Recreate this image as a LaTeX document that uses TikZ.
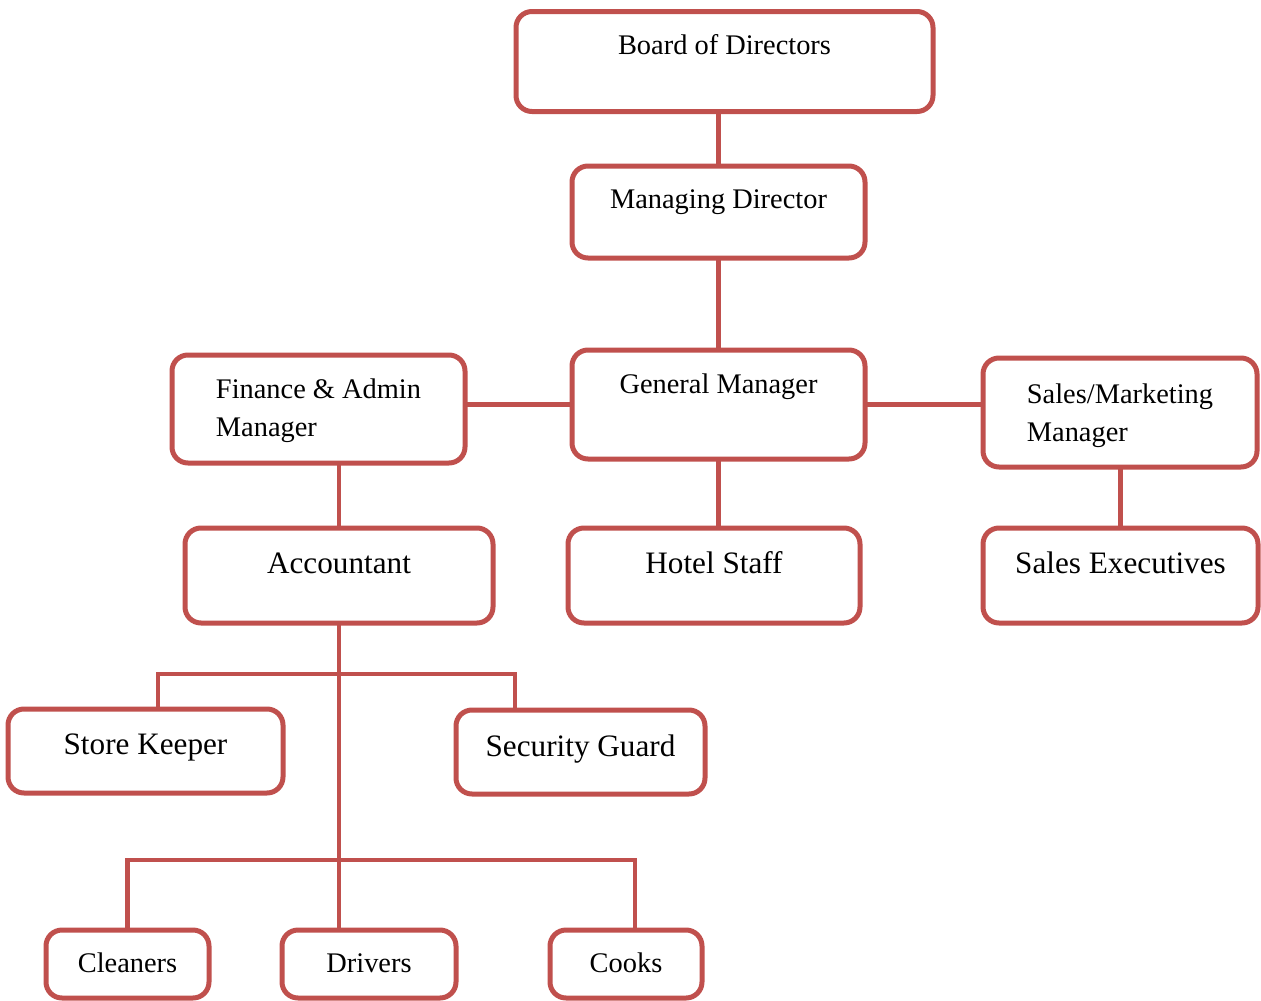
\documentclass[tikz,border=0pt]{standalone}
\usepackage{fontspec}
\setmainfont{Liberation Serif}
\usetikzlibrary{calc}
\definecolor{chartred}{HTML}{C0504D}

\begin{document}
\begin{tikzpicture}[x=1pt,y=-1pt,
    post/.style n args={3}{draw=chartred,line width=5pt,rounded corners=16pt,fill=white,
      inner sep=0pt,outer sep=0pt,anchor=north,minimum width=#1,text height=#2,text depth=#3},
    small/.style={font=\fontsize{28.4}{38}\selectfont},
    large/.style={font=\fontsize{31.2}{38}\selectfont},
    link/.style={draw=chartred,line width=4.5pt}]
  \useasboundingbox (0,0) rectangle (1261,1001);
  \node[post={417pt}{42.5pt}{57.5pt},small] (bod) at (724.5,11.5) {Board of Directors};
  \node[post={293pt}{42pt}{50pt},small] (md) at (718.5,166) {Managing Director};
  \node[post={293pt}{43pt}{66pt},small] (gm) at (718.5,350) {General Manager};
  \node[post={293pt}{81pt}{27pt},small,align=left] (fam) at (318.5,355) {Finance \& Admin\\Manager};
  \node[post={274pt}{83pt}{26pt},small,align=left] (smm) at (1120,358) {Sales/Marketing\\Manager};
  \node[post={308pt}{45pt}{50pt},large] (acc) at (339,528) {Accountant};
  \node[post={292pt}{45pt}{50pt},large] (hot) at (714,528) {Hotel Staff};
  \node[post={275pt}{45pt}{50pt},large] (sex) at (1120.5,528) {Sales Executives};
  \node[post={275pt}{45pt}{39pt},large] (sto) at (145.5,709) {Store Keeper};
  \node[post={249pt}{46pt}{38pt},large] (sec) at (580.5,710) {Security Guard};
  \node[post={163pt}{42pt}{26pt},small] (cle) at (127.5,930) {Cleaners};
  \node[post={174pt}{42pt}{26pt},small] (drv) at (369,930) {Drivers};
  \node[post={152pt}{42pt}{26pt},small] (coo) at (626,930) {Cooks};
  \foreach \a/\b in {md/bod,sex/smm,acc/fam}
  {\draw[link] (\a.north) -- (\a.north |- \b.south);}
  \foreach \a/\b in {md/gm,gm/hot,acc/drv}
  {\draw[link] (\a.south) -- (\a.south |- \b.north);}
  \draw[link] (gm.west) -- (gm.west -| fam.east);
  \draw[link] (gm.east) -- (gm.east -| smm.west);
  \coordinate (split1) at ($(acc.south)+(0,51)$);
  \coordinate (split2) at ($(acc.south)+(0,237)$);
  \draw[link] ($(sto.north)+(12.5,0)$) |- (split1) -| ($(sec.north)+(-65.5,0)$);
  \draw[link] (cle.north) |- (split2) -| ($(coo.north)+(9,0)$);
\end{tikzpicture}
\end{document}
